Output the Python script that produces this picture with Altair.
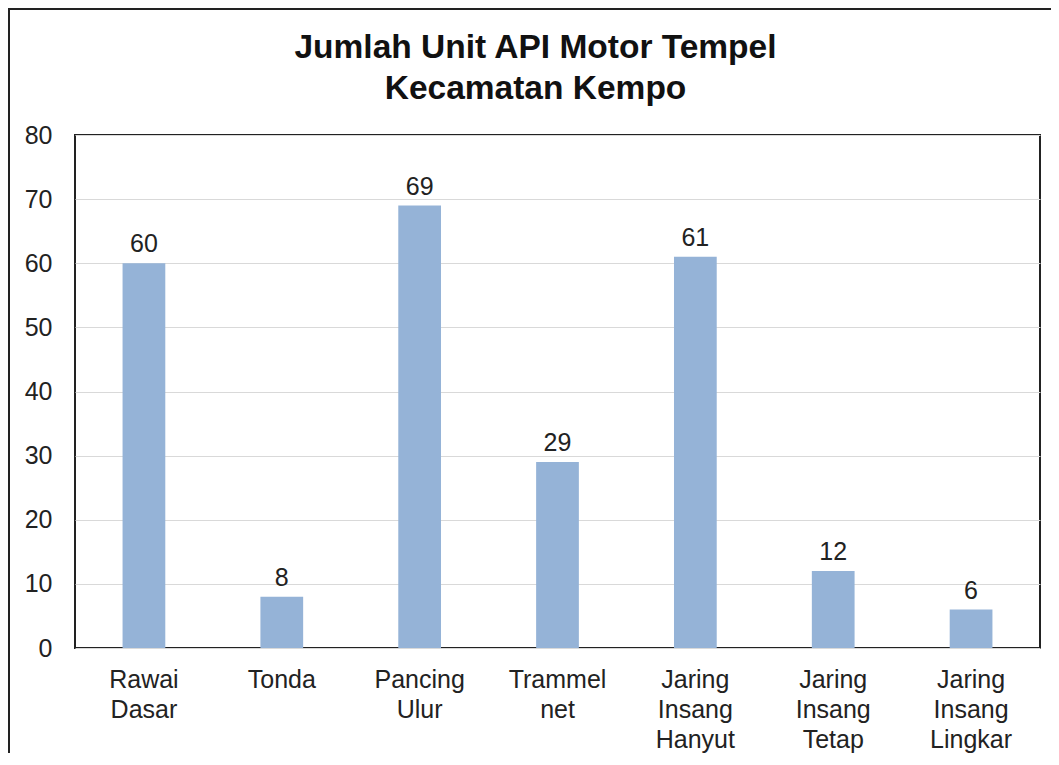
import altair as alt
import pandas as pd

categories = ["Rawai Dasar", "Tonda", "Pancing Ulur", "Trammel net",
              "Jaring Insang Hanyut", "Jaring Insang Tetap", "Jaring Insang Lingkar"]
values = [60, 8, 69, 29, 61, 12, 6]
y_ticks = [0, 10, 20, 30, 40, 50, 60, 70, 80]
title_lines = ["Jumlah Unit API Motor Tempel", "Kecamatan Kempo"]

df = pd.DataFrame({"cat": categories, "val": values})

W, H = 965, 513
FONT = "Liberation Sans"

x_enc = alt.X(
    "cat:N", sort=categories,
    scale=alt.Scale(paddingInner=0.69, paddingOuter=0.345),
    axis=alt.Axis(title=None, labelAngle=0, labelExpr="split(datum.label, ' ')",
                  labelFontSize=25, labelLineHeight=30, labelPadding=19,
                  ticks=False, domain=False, labelColor="#222", labelFont=FONT),
)
y_enc = alt.Y(
    "val:Q",
    scale=alt.Scale(domain=[0, 80], nice=False),
    axis=alt.Axis(title=None, values=y_ticks, grid=True, gridColor="#D9D9D9",
                  gridWidth=1, ticks=False, domain=False, labelFontSize=25,
                  labelPadding=23, labelColor="#222", labelFont=FONT),
)

base = alt.Chart(df)
bars = base.mark_bar(color="#95B3D7").encode(x=x_enc, y=y_enc)
text = base.mark_text(dy=-11, fontSize=25, baseline="alphabetic", color="#222",
                      font=FONT).encode(x=alt.X("cat:N", sort=categories),
                                        y="val:Q", text="val:Q")

frame = alt.Chart(pd.DataFrame({"a": [0]})).mark_rect(
    fill=None, stroke="#222", strokeWidth=2, clip=False
).encode(x=alt.value(-66), x2=alt.value(W + 30),
         y=alt.value(-126), y2=alt.value(H + 140))

chart = alt.layer(bars, text, frame).properties(
    width=W, height=H,
    padding={"left": 67, "top": 127, "right": 11, "bottom": 105},
    autosize="none",
    title=alt.TitleParams(title_lines, fontSize=33.5, fontWeight="bold", font=FONT,
                          lineHeight=41, dx=-22, offset=-98, color="#111",
                          anchor="middle", frame="group"),
).configure(font=FONT).configure_view(stroke="#222", strokeWidth=2)

chart.save("out.html", embed_options={"renderer": "svg", "actions": False})
